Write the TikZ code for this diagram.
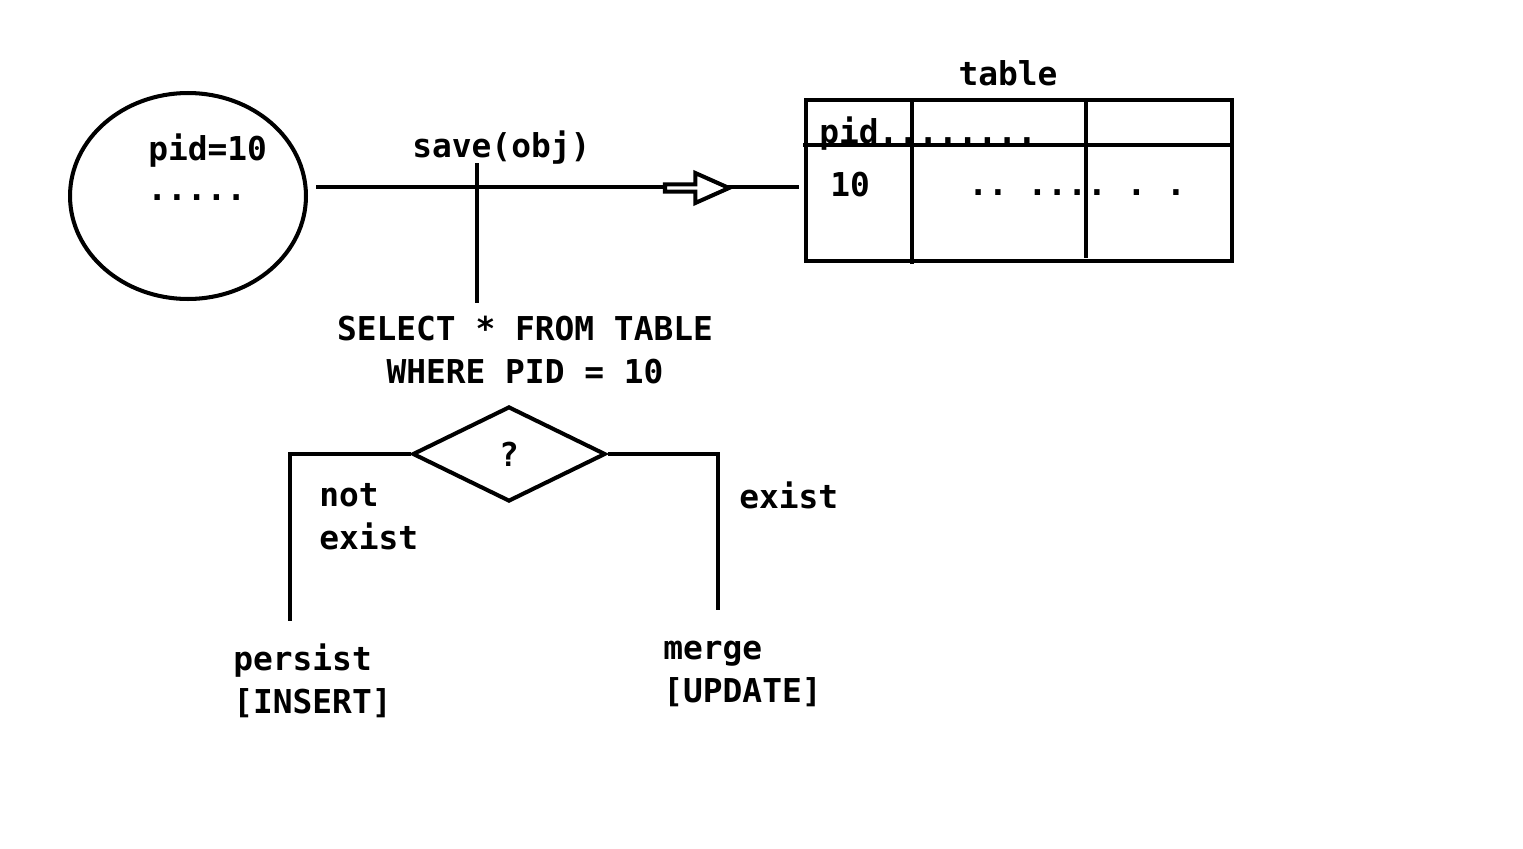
\documentclass[tikz,border=0pt]{standalone}
\usepackage{fontspec}
\setmonofont{DejaVu Sans Mono}
\usetikzlibrary{positioning,shapes.geometric,shapes.arrows}

\begin{document}
\begin{tikzpicture}[x=0.02cm, y=-0.02cm,
      lbl/.style={inner sep=0pt, align=left,
        font=\ttfamily\bfseries\fontsize{18.7}{24.4}\selectfont},
      link/.style={draw=black, line width=2.3pt},
      entity/.style={draw=black, ellipse, line width=2.3pt, inner sep=0pt,
        minimum width=4.72cm, minimum height=4.12cm},
      tablebox/.style={draw=black, line width=2.3pt, inner sep=0pt,
        minimum width=8.52cm, minimum height=3.22cm},
      decide/.style={draw=black, diamond, line width=2.3pt, inner sep=0pt,
        minimum width=3.86cm, minimum height=1.9cm,
        font=\ttfamily\bfseries\fontsize{18.7}{24.4}\selectfont},
      hollow/.style={single arrow, draw=black, fill=white, line width=2.3pt,
        inner sep=0pt, minimum width=0.6cm, minimum height=1.28cm,
        single arrow head extend=0.13cm, single arrow tip angle=48,
        single arrow head indent=0pt}
    ]
  \useasboundingbox (0,0) rectangle (1523,848);

  % object in memory
  \node[entity] (obj) at (188,196) {};
  \node[lbl, anchor=base west] (pidval) at (148,160) {pid=10};
  \node[lbl, anchor=base west] (objdots) at (147,200) {.....};

  % database table
  \node[tablebox] (tbl) at (1019,180.5) {};
  \draw[link] (803,145) -- (1232,145);
  \draw[link] (912,102) -- (912,264);
  \draw[link] (1086,100) -- (1086,258);
  \node[lbl, anchor=base] (tbltitle) at (1008,86) {table};
  \node[lbl, anchor=base west] (colhead) at (819,143) {pid........};
  \node[lbl, anchor=base west] (pidcell) at (830,196) {10};
  \node[lbl, anchor=base west] (rowdots) at (968,195) {.. .... . .};

  % save call
  \coordinate (savestart) at (316,187);
  \draw[link, shorten >=0.1cm] (savestart) -- (tbl.west |- savestart);
  \node[hollow] (dir) at (693,188) {};
  \node[lbl, anchor=base west] (savelbl) at (412,157) {save(obj)};

  % lookup query
  \node[lbl, align=center, anchor=base] (query) at (525,383)
    {SELECT * FROM TABLE\\WHERE PID = 10};
  \coordinate (qtop) at (477,163);
  \draw[link, shorten >=0.24cm] (qtop) -- (qtop |- query.north);

  % decision
  \node[decide] (chk) at (509,454) {?};
  \coordinate (insend) at (290,621);
  \coordinate (updend) at (718,610);
  \draw[link] (chk.west) -| (insend);
  \draw[link] (chk.east) -| (updend);
  \node[lbl, anchor=base west] (nolbl) at (319,549) {not\\exist};
  \node[lbl, anchor=base west] (yeslbl) at (739,508) {exist};
  \node[lbl, anchor=base west] (ins) at (233,713) {persist\\{[INSERT]}};
  \node[lbl, anchor=base west] (upd) at (663,702) {merge\\{[UPDATE]}};
\end{tikzpicture}
\end{document}
